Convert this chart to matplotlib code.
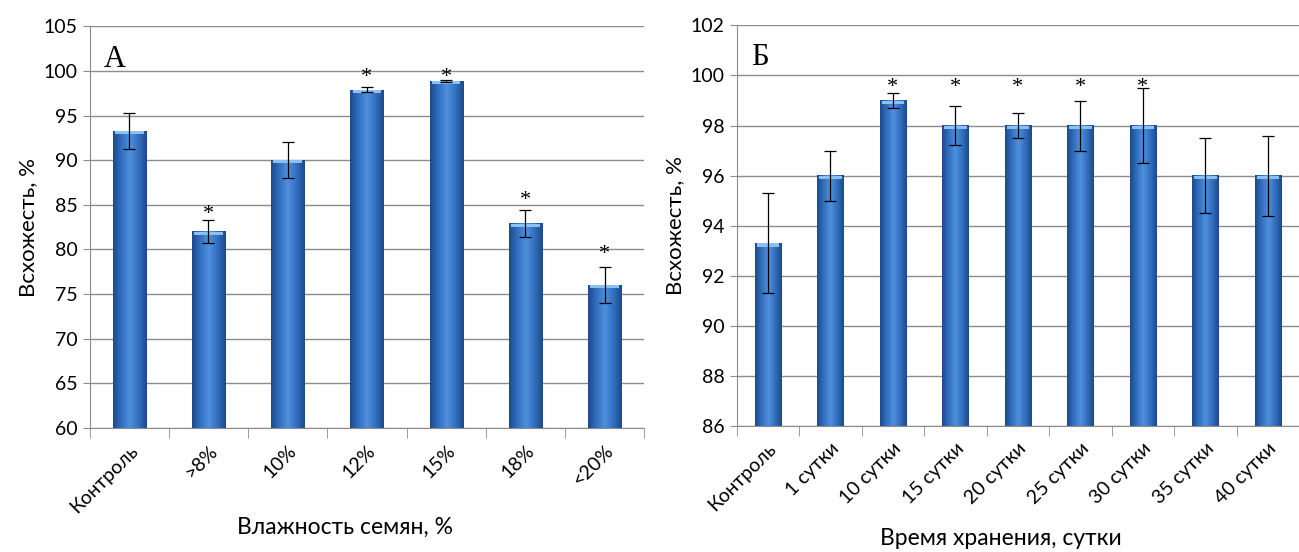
import numpy as np
from matplotlib import pyplot as plt
from matplotlib.colors import LinearSegmentedColormap

# panel A: seed moisture
moist_labels = ['Контроль', '>8%', '10%', '12%', '15%', '18%', '<20%']
moist_values = [93.3, 82.0, 90.0, 97.9, 98.9, 82.9, 76.0]
moist_errors = [2.0, 1.25, 2.0, 0.3, 0.1, 1.5, 2.05]
moist_stars = [None, 84.5, None, 99.9, 99.9, 86.1, 80.0]

# panel Б: storage time
store_labels = ['Контроль', '1 сутки', '10 сутки', '15 сутки', '20 сутки',
                '25 сутки', '30 сутки', '35 сутки', '40 сутки']
store_values = [93.3, 96.0, 99.0, 98.0, 98.0, 98.0, 98.0, 96.0, 96.0]
store_errors = [2.0, 1.0, 0.3, 0.78, 0.5, 1.0, 1.5, 1.5, 1.6]
store_stars = [None, None, 99.73, 99.73, 99.73, 99.73, 99.73, None, None]

sans = ['Lato', 'DejaVu Sans']
serif = ['Liberation Serif', 'DejaVu Serif']
grid_col = '#8c8c8c'

bar_cmap = LinearSegmentedColormap.from_list(
  'bar', ['#1d4a8c', '#3370c0', '#4f90dc', '#3370c0', '#1d4a8c'])
grad = np.linspace(0, 1, 64).reshape(1, -1)


def draw_panel(ax, labels, values, errors, stars, ylo, yhi, ystep,
               letter, xlabel, xlabel_pos):
  n = len(labels)
  x = np.arange(n)
  width = 0.42
  ax.set_xlim(-0.5, n - 0.5)
  ax.set_ylim(ylo, yhi)
  for xi, v in zip(x, values):
    ax.imshow(grad, cmap=bar_cmap, aspect='auto', zorder=2,
              extent=(xi - width / 2, xi + width / 2, ylo, v))
    # light bevel on bar top
    ax.fill_between([xi - width / 2 + 0.03, xi + width / 2 - 0.03],
                    v - (yhi - ylo) * 0.008, v, color='#8cc0f0', zorder=3, lw=0)
  ax.errorbar(x, values, yerr=errors, fmt='none', ecolor='black',
              elinewidth=0.9, capsize=4, capthick=0.9, zorder=4)
  for xi, s in zip(x, stars):
    if s is not None:
      ax.annotate('*', (xi, s), xytext=(0, -4), textcoords='offset points',
                  ha='center', va='center', fontsize=16, family=serif, zorder=5)
  ax.set_yticks(np.arange(ylo, yhi + 0.01, ystep))
  ax.yaxis.grid(True, color=grid_col, lw=1.0)
  ax.set_axisbelow(True)
  ax.set_xticks(x)
  ax.set_xticklabels(labels, rotation=45, ha='right', rotation_mode='anchor',
                     fontsize=14, family=sans)
  ax.set_xticks(np.arange(-0.5, n, 1.0), minor=True)
  ax.tick_params(axis='x', which='major', length=0, pad=10)
  ax.tick_params(axis='x', which='minor', length=7, color=grid_col, direction='out')
  ax.tick_params(axis='y', length=5, color=grid_col, labelsize=14)
  for lab in ax.get_yticklabels():
    lab.set_family(sans)
  for sp in ['top', 'right']:
    ax.spines[sp].set_visible(False)
  for sp in ['left', 'bottom']:
    ax.spines[sp].set_color(grid_col)
  ax.set_ylabel('Всхожесть, %', fontsize=16, family=sans)
  ax.set_xlabel(xlabel, fontsize=16.5, family=sans)
  ax.xaxis.set_label_coords(*xlabel_pos)
  ax.text(0.025, 0.955, letter, transform=ax.transAxes, ha='left', va='top',
          fontsize=22, family=serif)


fig = plt.figure(figsize=(12.99, 5.52), dpi=100)
ax1 = fig.add_axes([0.069, 0.225, 0.427, 0.727])
ax2 = fig.add_axes([0.567, 0.228, 0.433, 0.726])

draw_panel(ax1, moist_labels, moist_values, moist_errors, moist_stars,
           60, 105, 5, 'А', 'Влажность семян, %', (0.461, -0.222))
draw_panel(ax2, store_labels, store_values, store_errors, store_stars,
           86, 102, 2, 'Б', 'Время хранения, сутки', (0.47, -0.254))

fig.savefig('out.png', dpi=100)
